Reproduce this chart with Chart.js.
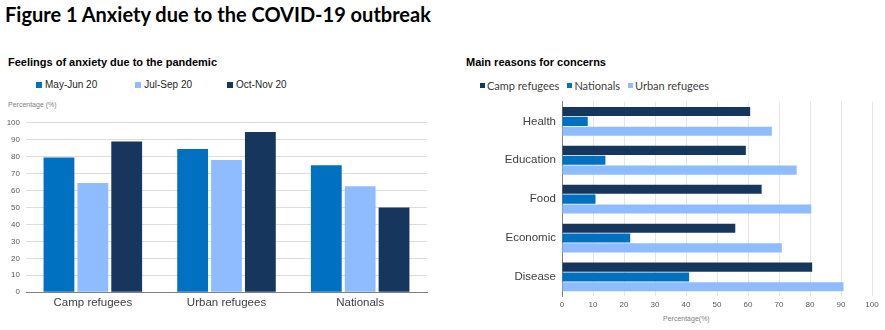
<!DOCTYPE html>
<html>
<head>
<meta charset="utf-8">
<script src="https://cdn.jsdelivr.net/npm/chart.js@4"></script>
<style>
  body { margin: 0; background: #fff; width: 885px; height: 330px; position: relative; overflow: hidden; }
  .abs { position: absolute; white-space: nowrap; }
  .fig-title { left: 5px; top: 2px; font: bold 20px Lato, sans-serif; color: #000; }
  .chart-title { font: bold 11px "Liberation Sans", Arial, sans-serif; color: #000; }
  .legend { display: flex; align-items: center; color: #262626; }
  .legend span.item { display: flex; align-items: center; }
  .legend i { display: inline-block; width: 6px; height: 6px; margin-right: 3px; }
  #legendRight i { width: 5px; height: 5px; margin-right: 2px; }
  .axis-note { font: 7px "Liberation Sans", Arial, sans-serif; color: #7f7f7f; }
  canvas { position: absolute; }
</style>
</head>
<body>
<div class="abs fig-title">Figure 1 Anxiety due to the COVID-19 outbreak</div>

<div class="abs chart-title" style="left:8px; top:56px;">Feelings of anxiety due to the pandemic</div>
<div class="abs legend" id="legendLeft" style="left:36px; top:79px; font:10px 'Liberation Sans', Arial, sans-serif;"></div>
<div class="abs axis-note" style="left:8px; top:101px;">Percentage (%)</div>
<div id="leftWrap" class="abs" style="left:0; top:112px; width:440px; height:218px;"><canvas id="anxietyChart"></canvas></div>

<div class="abs chart-title" style="left:466px; top:56px;">Main reasons for concerns</div>
<div class="abs legend" id="legendRight" style="left:480px; top:79px; font:11px Lato, sans-serif; color:#404040;"></div>
<div class="abs axis-note" style="left:663px; top:315px;">Percentage(%)</div>
<div id="rightWrap" class="abs" style="left:450px; top:89px; width:435px; height:225px;"><canvas id="reasonsChart"></canvas></div>

<script>
// Feelings of anxiety by group and survey round
const groups = ['Camp refugees', 'Urban refugees', 'Nationals'];
const rounds = ['May-Jun 20', 'Jul-Sep 20', 'Oct-Nov 20'];
const mayJun = [79.5, 84.5, 75];
const julSep = [64.5, 78, 62.5];
const octNov = [89, 94.5, 50];
const yTicks = [0, 10, 20, 30, 40, 50, 60, 70, 80, 90, 100];

// Main reasons for concern
const reasons = ['Health', 'Education', 'Food', 'Economic', 'Disease'];
const populations = ['Camp refugees', 'Nationals', 'Urban refugees'];
const campRefugees = [60.7, 59.3, 64.4, 55.9, 80.7];
const nationals = [8.3, 14, 10.8, 22, 41];
const urbanRefugees = [67.7, 75.7, 80.4, 70.9, 90.8];

const MID_BLUE = '#0070c0';
const LIGHT_BLUE = '#8fbcff';
const NAVY = '#17365d';

function buildLegend(el, names, colors, gap) {
  names.forEach((name, i) => {
    const item = document.createElement('span');
    item.className = 'item';
    if (i > 0) item.style.marginLeft = gap[i - 1] + 'px';
    item.innerHTML = '<i style="background:' + colors[i] + '"></i>' + name;
    el.appendChild(item);
  });
}

buildLegend(document.getElementById('legendLeft'), rounds, [MID_BLUE, LIGHT_BLUE, NAVY], [38, 35]);
buildLegend(document.getElementById('legendRight'), populations, [NAVY, MID_BLUE, LIGHT_BLUE], [8, 8]);

const tickFont = { family: "'Liberation Sans', Arial, sans-serif", size: 8 };
const labelFont = { family: "'Liberation Sans', Arial, sans-serif", size: 11.5 };

new Chart(document.getElementById('anxietyChart'), {
  type: 'bar',
  data: {
    labels: groups,
    datasets: [
      { label: rounds[0], data: mayJun, backgroundColor: MID_BLUE },
      { label: rounds[1], data: julSep, backgroundColor: LIGHT_BLUE },
      { label: rounds[2], data: octNov, backgroundColor: NAVY }
    ]
  },
  options: {
    responsive: true,
    maintainAspectRatio: false,
    animation: false,
    datasets: { bar: { categoryPercentage: 0.76, barPercentage: 0.91 } },
    layout: { padding: { top: 10, right: 13, left: 0, bottom: 16 } },
    plugins: { legend: { display: false }, tooltip: { enabled: false } },
    scales: {
      x: {
        grid: { display: false, drawTicks: false },
        border: { color: '#808080', width: 1 },
        ticks: { color: '#404040', font: labelFont, padding: 4 }
      },
      y: {
        min: 0,
        max: 100,
        afterBuildTicks: s => { s.ticks = yTicks.map(v => ({ value: v })); },
        afterFit: s => { s.width = 26; },
        grid: { color: '#dcdcdc', drawTicks: false },
        border: { display: false },
        ticks: { color: '#595959', font: tickFont, padding: 6 }
      }
    }
  }
});

new Chart(document.getElementById('reasonsChart'), {
  type: 'bar',
  data: {
    labels: reasons,
    datasets: [
      { label: populations[0], data: campRefugees, backgroundColor: NAVY },
      { label: populations[1], data: nationals, backgroundColor: MID_BLUE },
      { label: populations[2], data: urbanRefugees, backgroundColor: LIGHT_BLUE }
    ]
  },
  options: {
    indexAxis: 'y',
    responsive: true,
    maintainAspectRatio: false,
    animation: false,
    datasets: { bar: { categoryPercentage: 0.76, barPercentage: 0.92 } },
    layout: { padding: { top: 7, right: 13, left: 0, bottom: 0 } },
    plugins: { legend: { display: false }, tooltip: { enabled: false } },
    scales: {
      x: {
        min: 0,
        max: 100,
        afterBuildTicks: s => { s.ticks = yTicks.map(v => ({ value: v })); },
        grid: { color: '#e6e6e6', drawTicks: false },
        border: { display: false },
        ticks: { color: '#595959', font: tickFont, padding: 4 }
      },
      y: {
        afterFit: s => { s.width = 112; },
        grid: { display: false, drawTicks: false },
        border: { color: '#808080', width: 1 },
        ticks: { color: '#404040', font: labelFont, padding: 6 }
      }
    }
  }
});
</script>
</body>
</html>
